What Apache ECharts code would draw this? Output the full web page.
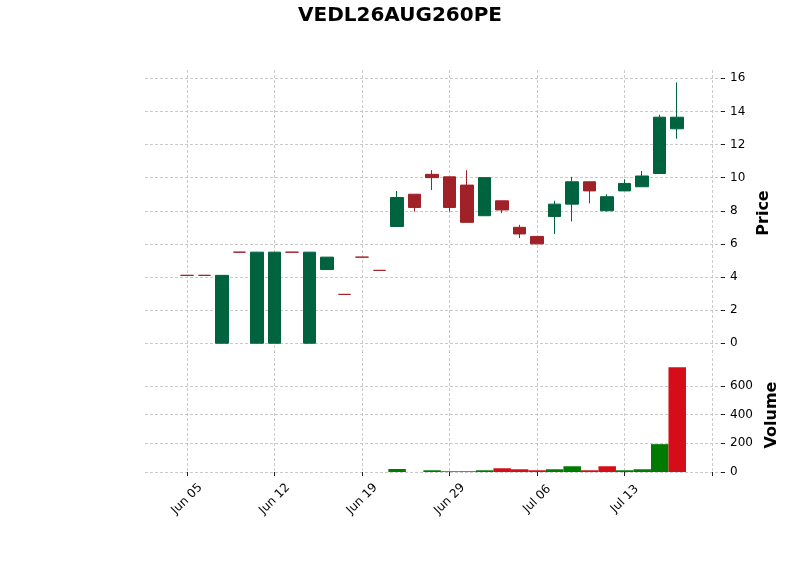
<!DOCTYPE html>
<html>
<head>
<meta charset="utf-8">
<script src="https://cdn.jsdelivr.net/npm/echarts@6/dist/echarts.min.js"></script>
<style>
  html, body { margin: 0; padding: 0; background: #fff; }
  #chart { width: 800px; height: 575px; }
</style>
</head>
<body>
<div id="chart"></div>
<script>
var dates = ['Jun 05', 'Jun 08', 'Jun 09', 'Jun 10', 'Jun 11', 'Jun 12', 'Jun 15', 'Jun 16', 'Jun 17', 'Jun 18',
	'Jun 19', 'Jun 22', 'Jun 23', 'Jun 24', 'Jun 26', 'Jun 29', 'Jun 30', 'Jul 01', 'Jul 02', 'Jul 03',
	'Jul 06', 'Jul 07', 'Jul 08', 'Jul 09', 'Jul 10', 'Jul 13', 'Jul 14', 'Jul 15', 'Jul 16'];
var opens  = [4.1, 4.1, 0, 5.5, 0, 0, 5.5, 0, 4.45, 2.95, 5.2, 4.4, 7.05, 9.0, 10.2, 10.05, 9.55, 7.7, 8.6, 7.0,
	6.45, 7.65, 8.4, 9.75, 8.0, 9.2, 9.45, 10.25, 12.95];
var highs  = [4.1, 4.1, 4.1, 5.5, 5.5, 5.5, 5.5, 5.5, 5.2, 2.95, 5.2, 4.4, 9.2, 9.0, 10.45, 10.05, 10.45, 10.0, 8.6, 7.15,
	6.45, 8.6, 10.05, 9.75, 9.0, 9.9, 10.4, 13.8, 15.75];
var lows   = [4.1, 4.1, 0, 5.5, 0, 0, 5.5, 0, 4.45, 2.95, 5.2, 4.4, 7.05, 7.95, 9.25, 7.95, 7.3, 7.7, 7.85, 6.35,
	6.0, 6.6, 7.35, 8.45, 7.95, 9.2, 9.45, 10.25, 12.35];
var closes = [4.1, 4.1, 4.1, 5.5, 5.5, 5.5, 5.5, 5.5, 5.2, 2.95, 5.2, 4.4, 8.8, 8.2, 10.0, 8.2, 7.3, 10.0, 8.05, 6.6,
	6.0, 8.4, 9.75, 9.2, 8.85, 9.65, 10.1, 13.65, 13.65];
var volumes = [0, 0, 0, 0, 0, 0, 0, 0, 0, 0, 0, 0, 21, 0, 12, 5, 5, 12, 26, 19,
	12, 19, 40, 12, 40, 12, 19, 194, 730];
var priceTicks = [0, 2, 4, 6, 8, 10, 12, 14, 16];
var volumeTicks = [0, 200, 400, 600];
var dateTicks = [0, 5, 10, 15, 20, 25, 30];

var candleUp = '#006340', candleDown = '#A02128';
var volUp = '#007a00', volDown = '#d50d18';
var gridColor = '#bdbdbd';

var candleData = [], volumeData = [];
for (var i = 0; i < dates.length; i++) {
	var c = closes[i] > opens[i] ? candleUp : candleDown;
	candleData.push({
		value: [i, opens[i], closes[i], lows[i], highs[i]],
		itemStyle: { color: c, color0: c, borderColor: c, borderColor0: c }
	});
	var up = i > 0 && closes[i] > closes[i - 1];
	volumeData.push({
		value: [i, volumes[i]],
		itemStyle: { color: up ? volUp : volDown }
	});
}

function xAxisCommon(gridIndex, showLabels) {
	return {
		type: 'value',
		gridIndex: gridIndex,
		min: -2.4,
		max: 30.5,
		axisLine: { show: false, onZero: false },
		axisTick: { show: showLabels, customValues: dateTicks, length: 4, lineStyle: { color: '#222' } },
		axisLabel: {
			show: showLabels,
			customValues: dateTicks,
			rotate: 45,
			align: 'center',
			verticalAlign: 'middle',
			margin: 27,
			color: '#000',
			fontSize: 12,
			fontFamily: 'DejaVu Sans',
			formatter: function (v) { return dates[v] || ''; }
		},
		splitLine: { show: true, lineStyle: { color: gridColor, type: [3, 2], width: 0.8 } }
	};
}

function yAxisCommon(gridIndex, name, min, max, ticks, gap) {
	return {
		type: 'value',
		gridIndex: gridIndex,
		position: 'right',
		min: min,
		max: max,
		name: name,
		nameLocation: 'middle',
		nameRotate: 90,
		nameGap: gap,
		nameTextStyle: { fontFamily: 'DejaVu Sans', fontWeight: 'bold', fontSize: 16, color: '#000' },
		axisLine: { show: false, onZero: false },
		axisTick: { show: true, customValues: ticks, length: 4, lineStyle: { color: '#222' } },
		axisLabel: { customValues: ticks, color: '#000', fontSize: 12, fontFamily: 'DejaVu Sans', margin: 9 },
		splitLine: { show: true, lineStyle: { color: gridColor, type: [3, 2], width: 0.8 } }
	};
}

var chart = echarts.init(document.getElementById('chart'));
var option = {
	animation: false,
	backgroundColor: '#fff',
	title: {
		text: 'VEDL26AUG260PE',
		left: 'center',
		top: 1,
		textStyle: { fontFamily: 'DejaVu Sans', fontWeight: 'bold', fontSize: 20, color: '#000' }
	},
	grid: [
		{ left: 145, right: 79, top: 70, height: 286 },
		{ left: 145, right: 79, top: 358, height: 114 }
	],
	xAxis: [xAxisCommon(0, false), xAxisCommon(1, true)],
	yAxis: [
		yAxisCommon(0, 'Price', -0.77, 16.5, priceTicks, 33),
		yAxisCommon(1, 'Volume', 0, 794, volumeTicks, 43)
	],
	series: [
		{
			name: 'Price',
			type: 'candlestick',
			xAxisIndex: 0,
			yAxisIndex: 0,
			barWidth: 13,
			clip: false,
			encode: { x: 0, y: [1, 2, 3, 4] },
			itemStyle: { borderWidth: 1 },
			data: candleData
		},
		{
			name: 'Volume',
			type: 'bar',
			xAxisIndex: 1,
			yAxisIndex: 1,
			barWidth: 17.5,
			encode: { x: 0, y: 1 },
			data: volumeData
		}
	]
};
chart.setOption(option);
</script>
</body>
</html>
